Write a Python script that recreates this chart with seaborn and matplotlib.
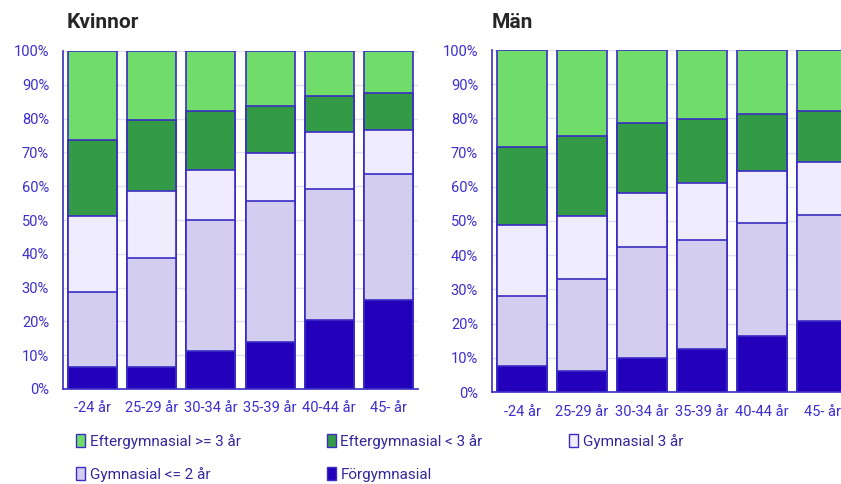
import numpy as np
import pandas as pd
import seaborn as sns
import matplotlib.pyplot as plt
from matplotlib.patches import Patch
from matplotlib.ticker import FixedLocator, PercentFormatter

# age groups and education levels (bottom to top)
ages = ["-24 år", "25-29 år", "30-34 år", "35-39 år", "40-44 år", "45- år"]
levels = ["Förgymnasial", "Gymnasial <= 2 år", "Gymnasial 3 år",
          "Eftergymnasial < 3 år", "Eftergymnasial >= 3 år"]

# Kvinnor, percent per level
kvinnor_forgym = [6.6, 6.6, 11.1, 13.8, 20.4, 26.3]
kvinnor_gym2 = [22.2, 32.2, 39.0, 41.7, 38.9, 37.3]
kvinnor_gym3 = [22.3, 19.8, 14.7, 14.2, 16.7, 13.0]
kvinnor_eft_kort = [22.6, 20.9, 17.4, 13.9, 10.8, 11.0]
kvinnor_eft_lang = [26.3, 20.5, 17.8, 16.4, 13.2, 12.4]

# Män, percent per level
man_forgym = [7.5, 6.0, 9.8, 12.5, 16.3, 20.9]
man_gym2 = [20.5, 26.9, 32.6, 31.8, 33.1, 31.0]
man_gym3 = [20.9, 18.6, 15.7, 16.8, 15.1, 15.3]
man_eft_kort = [22.6, 23.3, 20.6, 18.7, 16.8, 14.9]
man_eft_lang = [28.5, 25.2, 21.3, 20.2, 18.7, 17.9]

colors = {
    "Förgymnasial": "#2301ba",
    "Gymnasial <= 2 år": "#d3cdf0",
    "Gymnasial 3 år": "#eeecfd",
    "Eftergymnasial < 3 år": "#339b46",
    "Eftergymnasial >= 3 år": "#70dd6b",
}
edge = "#3a2cc4"
textcol = "#3c2ed0"

panels = {
    "Kvinnor": [kvinnor_forgym, kvinnor_gym2, kvinnor_gym3, kvinnor_eft_kort, kvinnor_eft_lang],
    "Män": [man_forgym, man_gym2, man_gym3, man_eft_kort, man_eft_lang],
}

rows = []
for kon, series in panels.items():
    for lev, vals in zip(levels, series):
        for a, v in zip(ages, vals):
            rows.append({"kon": kon, "level": lev, "age": a, "value": v})
df = pd.DataFrame(rows)
df["level"] = pd.Categorical(df["level"], levels, ordered=True)
df = df.sort_values(["kon", "age", "level"])
df["cum"] = df.groupby(["kon", "age"], observed=True)["value"].cumsum()

sns.set_style("white")
plt.rcParams["font.family"] = ["Roboto", "DejaVu Sans"]

fig = plt.figure(figsize=(8.41, 4.84), dpi=100)
ax1 = fig.add_axes([63 / 841, 95 / 484, 355 / 841, 338 / 484])
ax2 = fig.add_axes([492 / 841, 92 / 484, 360 / 841, 342 / 484])

for ax, kon in [(ax1, "Kvinnor"), (ax2, "Män")]:
    sub = df[df["kon"] == kon]
    # draw cumulative bars from the top level down so they stack
    for lev in reversed(levels):
        d = sub[sub["level"] == lev]
        sns.barplot(data=d, x="age", y="cum", order=ages, color=colors[lev],
                    saturation=1, width=0.83, edgecolor=edge, linewidth=1.2,
                    errorbar=None, ax=ax)
    ax.set_xlim(-0.5, 5.5)
    ax.set_ylim(0, 100)
    ax.set_yticks(range(0, 101, 10))
    ax.yaxis.set_major_formatter(PercentFormatter(decimals=0))
    ax.grid(axis="y", color="#e2e0f4", linewidth=1)
    ax.set_axisbelow(True)
    ax.set_xlabel("")
    ax.set_ylabel("")
    ax.xaxis.set_minor_locator(FixedLocator(np.arange(-0.5, 6, 1)))
    ax.tick_params(axis="x", which="major", length=0, pad=9, labelsize=10.5, labelcolor=textcol)
    ax.tick_params(axis="x", which="minor", length=5, width=1.2, color=edge)
    ax.tick_params(axis="y", length=4, width=1.2, color=edge, pad=6, labelsize=10.5, labelcolor=textcol)
    for s in ["top", "right"]:
        ax.spines[s].set_visible(False)
    for s in ["left", "bottom"]:
        ax.spines[s].set_color(edge)
        ax.spines[s].set_linewidth(1.2)

fig.text(67 / 841, 1 - 23 / 484, "Kvinnor", fontsize=15, fontweight="bold", va="center")
fig.text(492 / 841, 1 - 23 / 484, "Män", fontsize=15, fontweight="bold", va="center")

order = ["Eftergymnasial >= 3 år", "Gymnasial <= 2 år", "Eftergymnasial < 3 år",
         "Förgymnasial", "Gymnasial 3 år"]
handles = [Patch(facecolor=colors[l], edgecolor=edge, linewidth=1) for l in order]
fig.legend(handles, order, ncol=3, loc="upper left", frameon=False,
           bbox_to_anchor=(62 / 841, 1 - 420 / 484), fontsize=11,
           labelcolor="#34289f", handlelength=0.6, handleheight=0.9,
           handletextpad=0.3, columnspacing=5.65, labelspacing=1.2)

fig.savefig("out.png", dpi=100)
